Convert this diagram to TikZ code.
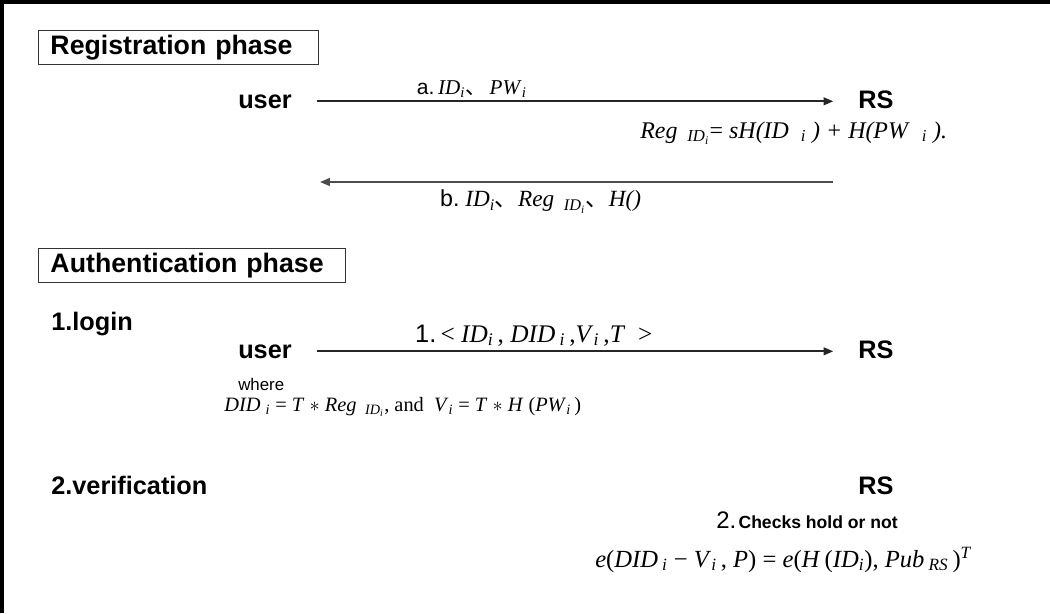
\documentclass[tikz,border=0pt]{standalone}
\usepackage{fontspec}
\setmainfont{Liberation Serif}
\newfontfamily\arial{Liberation Sans}
\newfontfamily\cjk{Noto Sans CJK SC}
\usetikzlibrary{arrows.meta,positioning}
\newcommand{\mi}[1]{\textit{#1}}
\newcommand{\sbi}[1]{\textsubscript{\textit{#1}}}
\newcommand{\dun}{{\cjk 、}}
\newcommand{\regid}{\mi{Reg}\,\ \textsubscript{\mi{ID}\textsubscript{\mi{i}}}}
\newcommand{\stepno}[1]{{\arial #1}}

\begin{document}
\begin{tikzpicture}[
    x=0.025cm, y=-0.025cm,
    phase/.style={
        draw=black!80, line width=0.7pt, anchor=north west,
        minimum height=0.82cm, inner xsep=0.3cm, align=left,
        font=\arial\bfseries\fontsize{19}{21}\selectfont
    },
    party/.style={anchor=base, inner xsep=0.62cm, inner ysep=0pt,
        font=\arial\bfseries\fontsize{18}{20}\selectfont},
    stagelbl/.style={anchor=base west, inner sep=0pt,
        font=\arial\bfseries\fontsize{18}{20}\selectfont},
    eqn/.style={anchor=base west, inner sep=0pt, font=\fontsize{15}{17}\selectfont},
    msg/.style={-{Triangle[length=7pt,width=5.5pt]}, line width=1.4pt, draw=black!85}
]
\useasboundingbox (0,0) rectangle (1050,613);

% outer frame (cut at right and bottom)
\draw[line width=2.2pt] (2,613) -- (2,2) -- (1050,2);

% Registration phase
\node[phase, text width=6.4cm] (regbox) at (38,30) {Registration phase};
\node[party] (ua) at (265,108) {user};
\node[party] (ra) at (876,108) {RS};
\draw[msg] (ua.east) -- (ua.east -| ra.west)
    node[pos=0.3, above=2pt, inner sep=0pt, font=\fontsize{15}{17}\selectfont]
    {\stepno{a.}\,\mi{ID}\sbi{i}\dun\,\mi{PW}\sbi{i}};

\node[eqn, font=\fontsize{17}{19}\selectfont] (regeq) at (640,138)
    {\regid= \mi{sH(ID}\ \ \sbi{i}\ \mi{) + H(PW}\ \ \sbi{i}\ \mi{).}};

\coordinate (rsb) at (833,182);
\coordinate (usb) at (320,182);
\draw[msg, draw=black!70] (rsb) -- (usb)
    node[pos=0.57, below=5pt, inner sep=0pt, font=\fontsize{16.5}{18}\selectfont]
    {\stepno{b.}\ \mi{ID}\sbi{i}\dun\regid\dun\mi{H()}};

% Authentication phase
\node[phase, text width=7.07cm] (authbox) at (38,248) {Authentication phase};

% 1. login
\node[stagelbl] (login) at (51,330) {1.login};
\node[party] (ub) at (265,358) {user};
\node[party] (rb) at (876,358) {RS};
\draw[msg] (ub.east) -- (ub.east -| rb.west)
    node[pos=0.42, above=3pt, inner sep=0pt, font=\fontsize{18}{20}\selectfont]
    {\stepno{1.}\,<\ \mi{ID}\sbi{i}\,, \mi{DID}\,\sbi{i}\,,\mi{V}\sbi{i}\,,\mi{T}\ \ >};

\node[anchor=base west, inner sep=0pt, font=\arial\fontsize{12}{14}\selectfont]
    (where) at (238,390) {where};
\node[eqn, font=\fontsize{14.5}{16}\selectfont] (whereeq) at (224,411)
    {\mi{DID}\ \sbi{i}\ = \mi{T}\ $\ast$\ \regid, and\ \ \mi{V}\sbi{i}\ = \mi{T}\ $\ast$\ \mi{H}\ (\mi{PW}\sbi{i}\,)};

% 2. verification
\node[stagelbl] (verif) at (51,494) {2.verification};
\node[party] (rc) at (876,494) {RS};
\node[anchor=base, inner sep=0pt] (check) at (807,528)
    {{\arial\fontsize{17}{19}\selectfont 2.}\,{\arial\bfseries\fontsize{12.5}{14}\selectfont Checks hold or not}};
\node[eqn, font=\fontsize{17.5}{20}\selectfont] (checkeq) at (595,567)
    {\mi{e}(\mi{DID}\,\sbi{i} − \mi{V}\sbi{i}\,, \mi{P}) = \mi{e}(\mi{H}\,(\mi{ID}\sbi{i}), \mi{Pub}\,\sbi{RS}\,)\textsuperscript{\mi{T}}};

\end{tikzpicture}
\end{document}
